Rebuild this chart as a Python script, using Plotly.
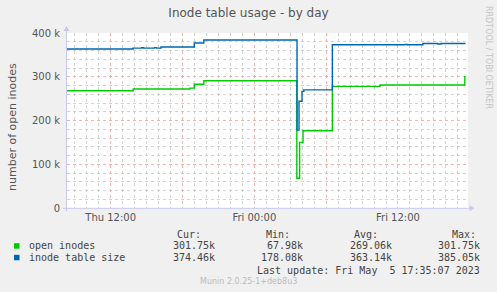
import plotly.graph_objects as go

# ---- data ----
open_times = ["2023-05-04 08:21", "2023-05-04 13:53", "2023-05-04 18:37", "2023-05-04 18:59",
              "2023-05-04 19:47", "2023-05-05 03:33", "2023-05-05 03:47", "2023-05-05 04:04",
              "2023-05-05 06:31", "2023-05-05 10:30", "2023-05-05 17:34", "2023-05-05 17:35"]
open_vals = [268000, 272000, 274000, 283000, 291000, 68000, 150000, 176500,
             278000, 281000, 281000, 301750]

size_times = ["2023-05-04 08:21", "2023-05-04 13:52", "2023-05-04 14:36", "2023-05-04 14:45",
              "2023-05-04 15:40", "2023-05-04 15:50", "2023-05-04 16:12", "2023-05-04 18:59",
              "2023-05-04 19:47", "2023-05-05 03:34", "2023-05-05 03:44", "2023-05-05 03:59",
              "2023-05-05 04:08", "2023-05-05 06:31", "2023-05-05 12:35", "2023-05-05 12:45",
              "2023-05-05 14:05", "2023-05-05 15:20", "2023-05-05 15:35", "2023-05-05 17:35"]
size_vals = [363400, 365500, 366500, 365500, 366500, 365500, 368000, 377000,
             384000, 178000, 244000, 266500, 270000, 373000, 374000, 373000,
             376000, 375000, 376000, 374460]

x_tickvals = ["2023-05-04 12:00", "2023-05-04 18:00", "2023-05-05 00:00",
              "2023-05-05 06:00", "2023-05-05 12:00"]
x_ticktext = ["Thu 12:00", "", "Fri 00:00", "", "Fri 12:00"]
y_tickvals = [0, 100000, 200000, 300000, 400000]
y_ticktext = ["0", "100 k", "200 k", "300 k", "400 k"]

series_names = ["open inodes", "inode table size"]
series_colors = ["#00CC00", "#0066B3"]
cur_vals = ["301.75k", "374.46k"]
min_vals = ["67.98k", "178.08k"]
avg_vals = ["269.06k", "363.14k"]
max_vals = ["301.75k", "385.05k"]

# ---- geometry ----
W, H = 497, 292
L, R, T, B = 67, 29, 33, 84
PW, PH = W - L - R, H - T - B


def px(x):
    return (x - L) / PW


def py(y):
    return (H - B - y) / PH


fig = go.Figure()
fig.add_trace(go.Scatter(x=open_times, y=open_vals, mode="lines", line_shape="hv",
                         line=dict(color=series_colors[0], width=1.4), name=series_names[0]))
fig.add_trace(go.Scatter(x=size_times, y=size_vals, mode="lines", line_shape="hv",
                         line=dict(color=series_colors[1], width=1.4), name=series_names[1]))

major = "#f6b0b0"
minor = "#d2d2d2"
fig.update_xaxes(range=["2023-05-04 08:21", "2023-05-05 17:51"],
                 tickmode="array", tickvals=x_tickvals, ticktext=x_ticktext,
                 showgrid=True, gridcolor=major, griddash="dot", gridwidth=1,
                 minor=dict(dtick=3600000, tick0="2023-05-04 00:00", showgrid=True,
                            gridcolor=minor, griddash="dot", gridwidth=1),
                 zeroline=False, showline=False, ticks="", ticklabelstandoff=2,
                 tickfont=dict(family="DejaVu Sans", size=10, color="#555"))
fig.update_yaxes(range=[0, 400000], tickmode="array", tickvals=y_tickvals, ticktext=y_ticktext,
                 showgrid=True, gridcolor=major, griddash="dot", gridwidth=1,
                 minor=dict(dtick=20000, tick0=0, showgrid=True,
                            gridcolor=minor, griddash="dot", gridwidth=1),
                 zeroline=False, showline=False, ticks="", ticklabelstandoff=6,
                 tickfont=dict(family="DejaVu Sans", size=10, color="#555"))

ann = []
ann.append(dict(text="number of open inodes", textangle=-90, x=px(12), y=py(127),
                font=dict(family="DejaVu Sans", size=11, color="#555")))
ann.append(dict(text="RRDTOOL / TOBI OETIKER", textangle=90, x=px(489), y=py(57),
                font=dict(family="DejaVu Sans", size=8, color="#c4c4c4")))
mono = dict(family="DejaVu Sans Mono", size=10, color="#444")
hdr_y = 234
row_y = [245.7, 257.3]
for txt, xr in [("Cur:", 203), ("Min:", 292.3), ("Avg:", 380), ("Max:", 478.3)]:
    ann.append(dict(text=txt, x=px(xr), y=py(hdr_y), xanchor="right", font=mono))
for i in range(2):
    ann.append(dict(text=series_names[i], x=px(26.5), y=py(row_y[i]), xanchor="left", font=mono))
    for vals, xr in [(cur_vals, 216.7), (min_vals, 305), (avg_vals, 394), (max_vals, 482.3)]:
        ann.append(dict(text=vals[i], x=px(xr), y=py(row_y[i]), xanchor="right", font=mono))
ann.append(dict(text="Last update:\u00a0Fri May\u00a0\u00a05 17:35:07 2023",
                x=px(482.3), y=py(270), xanchor="right", font=mono))
ann.append(dict(text="Munin 2.0.25-1+deb8u3", x=px(248), y=py(281),
                font=dict(family="DejaVu Sans", size=8, color="#bbb")))
for a in ann:
    a.update(xref="paper", yref="paper", showarrow=False, yanchor=a.get("yanchor", "middle"))
    a.setdefault("xanchor", "center")

shapes = []
axc = "#c8c8f4"
shapes.append(dict(type="line", x0=px(66.5), x1=px(66.5), y0=py(211), y1=py(29),
                   line=dict(color=axc, width=1)))
shapes.append(dict(type="line", x0=px(63), x1=px(471), y0=py(208.3), y1=py(208.3),
                   line=dict(color=axc, width=1)))
shapes.append(dict(type="path", path=f"M {px(63.5)} {py(31)} L {px(69.5)} {py(31)} L {px(66.5)} {py(26)} Z",
                   fillcolor=axc, line=dict(width=0)))
shapes.append(dict(type="path", path=f"M {px(469.5)} {py(205.3)} L {px(469.5)} {py(211.3)} L {px(474.5)} {py(208.3)} Z",
                   fillcolor=axc, line=dict(width=0)))
for i in range(2):
    shapes.append(dict(type="rect", x0=px(14), x1=px(19.5), y0=py(row_y[i] + 3), y1=py(row_y[i] - 2.5),
                       fillcolor=series_colors[i], line=dict(width=0)))
for s in shapes:
    s.update(xref="paper", yref="paper")

fig.update_layout(width=W, height=H, margin=dict(l=L, r=R, t=T, b=B),
                  paper_bgcolor="#F0F0F0", plot_bgcolor="#FFFFFF", showlegend=False,
                  title=dict(text="Inode table usage - by day", x=0.5, xref="container", xanchor="center",
                             y=1 - 13 / H, yref="container", yanchor="middle",
                             font=dict(family="DejaVu Sans", size=12, color="#555")),
                  annotations=ann, shapes=shapes)

fig.write_html("out.html")
